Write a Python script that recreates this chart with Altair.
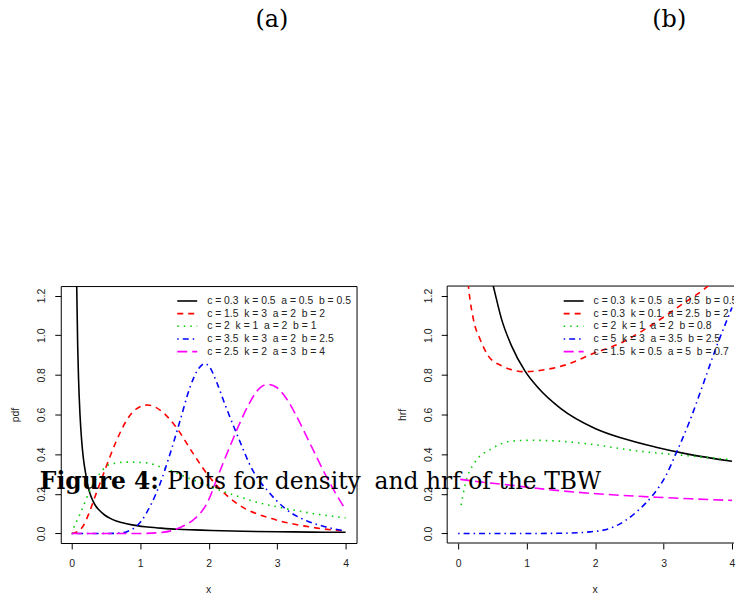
import altair as alt
import pandas as pd

# ---------------- panel (a): density curves ----------------
GAP = " \u00a0"  # two-space gap between parameter groups
pdf_labels = [
    GAP.join(["c = 0.3", "k = 0.5", "a = 0.5", "b = 0.5"]),
    GAP.join(["c = 1.5", "k = 3", "a = 2", "b = 2"]),
    GAP.join(["c = 2", "k = 1", "a = 2", "b = 1"]),
    GAP.join(["c = 3.5", "k = 3", "a = 2", "b = 2.5"]),
    GAP.join(["c = 2.5", "k = 2", "a = 3", "b = 4"]),
]
pdf1_x = [0.06, 0.073, 0.087, 0.10, 0.121, 0.145, 0.17, 0.205, 0.243, 0.29, 0.339, 0.40, 0.485, 0.6,
          0.727, 0.9, 1.07, 1.3, 1.55, 1.8, 2.04, 2.5, 3.0, 3.5, 4.0]
pdf1_y = [1.40, 1.25, 0.95, 0.78, 0.60, 0.47, 0.38, 0.30, 0.23, 0.18, 0.145, 0.118, 0.092, 0.07,
          0.055, 0.042, 0.034, 0.027, 0.021, 0.018, 0.015, 0.011, 0.009, 0.007, 0.006]
pdf2_x = [0.0, 0.06, 0.16, 0.25, 0.33, 0.474, 0.644, 0.815, 0.95, 1.105, 1.3, 1.517, 1.78, 2.0,
          2.15, 2.44, 2.92, 3.41, 3.89, 4.0]
pdf2_y = [0.0, 0.005, 0.034, 0.10, 0.176, 0.31, 0.46, 0.578, 0.63, 0.648, 0.62, 0.54, 0.40, 0.29,
          0.23, 0.145, 0.075, 0.037, 0.015, 0.012]
pdf3_x = [0.03, 0.135, 0.28, 0.426, 0.57, 0.815, 1.105, 1.3, 1.44, 1.70, 2.0, 2.2, 2.45, 2.69,
          2.95, 3.18, 3.4, 3.61, 3.8, 4.0]
pdf3_y = [0.03, 0.109, 0.227, 0.31, 0.35, 0.36, 0.356, 0.335, 0.318, 0.28, 0.24, 0.213, 0.185,
          0.159, 0.138, 0.122, 0.108, 0.096, 0.087, 0.079]
pdf4_x = [0.0, 0.5, 0.7, 0.815, 1.008, 1.153, 1.3, 1.444, 1.59, 1.735, 1.85, 1.94, 2.0, 2.12,
          2.245, 2.44, 2.63, 2.875, 3.117, 3.41, 3.7, 4.0]
pdf4_y = [0.0, 0.0, 0.002, 0.01, 0.059, 0.143, 0.26, 0.41, 0.578, 0.745, 0.83, 0.856, 0.846, 0.76,
          0.645, 0.478, 0.327, 0.21, 0.126, 0.067, 0.034, 0.012]
pdf5_x = [0.0, 1.0, 1.3, 1.49, 1.6, 1.78, 1.98, 2.147, 2.3, 2.44, 2.6, 2.75, 2.87, 3.0, 3.165,
          3.3, 3.5, 3.7, 3.85, 4.0]
pdf5_y = [0.0, 0.0, 0.005, 0.017, 0.033, 0.07, 0.155, 0.30, 0.43, 0.545, 0.66, 0.735, 0.752,
          0.735, 0.665, 0.58, 0.44, 0.30, 0.205, 0.12]

# ---------------- panel (b): hazard rate curves ----------------
hrf_labels = [
    GAP.join(["c = 0.3", "k = 0.5", "a = 0.5", "b = 0.5"]),
    GAP.join(["c = 0.3", "k = 0.1", "a = 2.5", "b = 2"]),
    GAP.join(["c = 2", "k = 1", "a = 2", "b = 0.8"]),
    GAP.join(["c = 5", "k = 3", "a = 3.5", "b = 2.5"]),
    GAP.join(["c = 1.5", "k = 0.5", "a = 5", "b = 0.7"]),
]
hrf1_x = [0.46, 0.513, 0.635, 0.78, 0.975, 1.168, 1.5, 2.0, 2.4, 2.89, 3.375, 4.0]
hrf1_y = [1.32, 1.248, 1.08, 0.946, 0.82, 0.735, 0.63, 0.53, 0.48, 0.435, 0.399, 0.364]
hrf2_x = [0.13, 0.15, 0.223, 0.32, 0.44, 0.635, 0.975, 1.265, 1.605, 1.945, 2.40, 2.89, 3.28,
          3.62, 3.75]
hrf2_y = [1.32, 1.248, 1.08, 0.98, 0.896, 0.846, 0.816, 0.826, 0.854, 0.904, 0.965, 1.066, 1.158,
          1.24, 1.28]
hrf3_x = [0.044, 0.1, 0.247, 0.49, 0.78, 1.07, 1.46, 1.895, 2.65, 3.13, 3.52, 3.93, 4.0]
hrf3_y = [0.143, 0.243, 0.36, 0.427, 0.466, 0.47, 0.466, 0.452, 0.415, 0.399, 0.387, 0.374, 0.372]
hrf4_x = [0.0, 1.0, 1.5, 1.92, 2.21, 2.45, 2.647, 2.84, 3.036, 3.18, 3.375, 3.57, 3.76, 3.93, 4.0]
hrf4_y = [0.0, 0.0, 0.001, 0.008, 0.025, 0.067, 0.122, 0.192, 0.293, 0.402, 0.561, 0.745, 0.93,
          1.08, 1.14]
hrf5_x = [0.03, 0.4, 0.78, 1.3, 1.92, 2.4, 2.89, 3.4, 3.91, 4.0]
hrf5_y = [0.273, 0.257, 0.243, 0.222, 0.203, 0.192, 0.183, 0.175, 0.168, 0.167]

x_ticks = [0, 1, 2, 3, 4]
y_ticks = [0.0, 0.2, 0.4, 0.6, 0.8, 1.0, 1.2]

# R base-graphics line types: solid, dashed, dotted, dotdash, longdash
colors = ["#000000", "#FF0000", "#00CD00", "#0000FF", "#FF00FF"]
dashes = [None, [6, 5], [1.5, 5], [1.5, 4, 6, 4], [10, 5]]

W_A, W_B, H = 297, 288, 258
Y_DOMAIN = [-0.048, 1.248]
SANS = "Liberation Sans"
SERIF = "DejaVu Serif"
TEXT_SIZE = 10.5


def axes(xdom, ytitle):
    common = dict(domain=False, grid=False, tickColor="black", tickSize=6, tickWidth=1,
                  labelFont=SANS, labelFontSize=TEXT_SIZE, labelColor="#222",
                  titleFont=SANS, titleFontSize=TEXT_SIZE, titleFontWeight="normal",
                  titleColor="#222")
    x = alt.X("x:Q", scale=alt.Scale(domain=xdom, nice=False, zero=False),
              axis=alt.Axis(values=x_ticks, format="d", title="x", labelPadding=9.5,
                            titleX=148, titleY=50, titleBaseline="alphabetic", **common))
    y = alt.Y("y:Q", scale=alt.Scale(domain=Y_DOMAIN, nice=False, zero=False),
              axis=alt.Axis(values=y_ticks, format=".1f", title=ytitle, labelAngle=270,
                            labelAlign="center", labelBaseline="bottom", labelPadding=8,
                            titleAngle=270, titleX=-45, titleY=129, titleAlign="center",
                            titleBaseline="middle", **common))
    return x, y


def curves(series, xdom, ytitle):
    x, y = axes(xdom, ytitle)
    out = []
    for i, (xs, ys) in enumerate(series):
        style = dict(color=colors[i], strokeWidth=1.6, clip=True, interpolate="monotone")
        if dashes[i]:
            style["strokeDash"] = dashes[i]
        out.append(alt.Chart(pd.DataFrame({"x": xs, "y": ys})).mark_line(**style).encode(x=x, y=y))
    return out


def legend(labels, clip):
    out = []
    for i, lab in enumerate(labels):
        df = pd.DataFrame({"label": [lab]})
        ypos = 15 + 12.7 * i
        style = dict(color=colors[i], strokeWidth=1.6)
        if dashes[i]:
            style["strokeDash"] = dashes[i]
        out.append(alt.Chart(df).mark_rule(**style).encode(
            x=alt.value(117), x2=alt.value(137), y=alt.value(ypos)))
        out.append(alt.Chart(df).mark_text(align="left", baseline="middle", font=SANS,
                                           fontSize=10.4, color="#222", clip=clip).encode(
            x=alt.value(147), y=alt.value(ypos), text="label:N"))
    return out


def label(text, x, y, size, weight="normal", align="left"):
    return alt.Chart(pd.DataFrame({"t": [text]})).mark_text(
        font=SERIF, fontSize=size, fontWeight=weight, align=align, baseline="alphabetic",
        color="black").encode(x=alt.value(x), y=alt.value(y), text="t:N")


pdf_series = [(pdf1_x, pdf1_y), (pdf2_x, pdf2_y), (pdf3_x, pdf3_y), (pdf4_x, pdf4_y), (pdf5_x, pdf5_y)]
hrf_series = [(hrf1_x, hrf1_y), (hrf2_x, hrf2_y), (hrf3_x, hrf3_y), (hrf4_x, hrf4_y), (hrf5_x, hrf5_y)]

# keeps the page origin fixed at the top-left corner of the figure
anchor = alt.Chart(pd.DataFrame({"t": [0]})).mark_rule(opacity=0, strokeWidth=0.5).encode(
    x=alt.value(-60), x2=alt.value(-59), y=alt.value(-285))

panel_a = alt.layer(
    *curves(pdf_series, [-0.16, 4.16], "pdf"),
    *legend(pdf_labels, False),
    label("(a)", 212, -260, 24, align="center"),
    label("Figure 4:", -21, 203.5, 23.5, weight="bold"),
    label("Plots for density", 107, 203.5, 23.5),
    anchor,
).properties(width=W_A, height=H, view=alt.ViewBackground(stroke="black", strokeWidth=1))

# frame of panel (b): left, top and bottom edges (the right edge falls outside the page)
frame_df = pd.DataFrame({"t": [0]})
frame = [
    alt.Chart(frame_df).mark_rule(color="black", strokeWidth=1).encode(
        x=alt.value(0), x2=alt.value(W_B), y=alt.value(0)),
    alt.Chart(frame_df).mark_rule(color="black", strokeWidth=1).encode(
        x=alt.value(0), x2=alt.value(W_B), y=alt.value(H)),
    alt.Chart(frame_df).mark_rule(color="black", strokeWidth=1).encode(
        x=alt.value(0), y=alt.value(0), y2=alt.value(H)),
]

panel_b = alt.layer(
    *frame,
    *curves(hrf_series, [-0.16, -0.16 + W_B / 68.75], "hrf"),
    *legend(hrf_labels, True),
    label("(b)", 223, -260, 24, align="center"),
    label("and hrf of the TBW", -73, 203.5, 23.5),
).properties(width=W_B, height=H, view=alt.ViewBackground(stroke="transparent"))

chart = alt.hconcat(panel_a, panel_b, spacing=91, bounds="flush").properties(
    padding=0, background="white")

chart.save("out.html", embed_options={"renderer": "svg", "actions": False})
